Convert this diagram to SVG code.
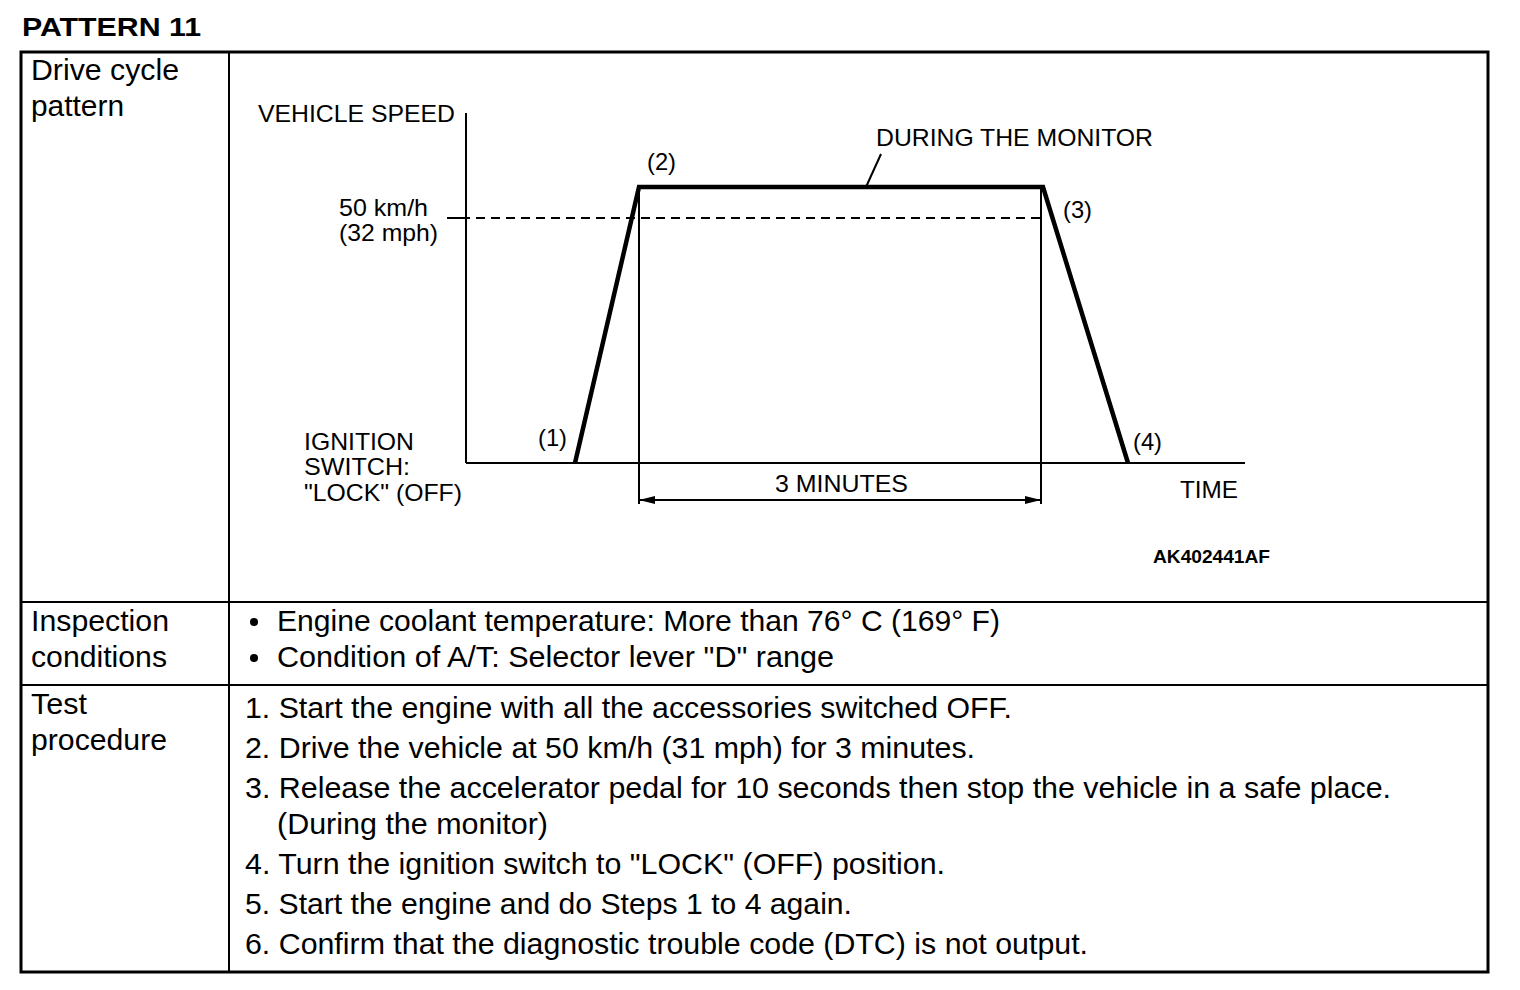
<svg xmlns="http://www.w3.org/2000/svg" width="1520" height="990" viewBox="0 0 1520 990">
<defs>
<style>
text{font-family:"Liberation Sans",Arial,sans-serif;fill:#000}
.body{font-size:29px}
.small{font-size:24px}
.b{font-weight:bold}
.grid{stroke:#000;stroke-width:2;fill:none}
.thick{stroke:#000;stroke-width:4.5;fill:none;stroke-linejoin:miter}
.thin{stroke:#000;stroke-width:2;fill:none}
.dash{stroke:#000;stroke-width:2;fill:none;stroke-dasharray:9 6}
</style>
<marker id="ah" viewBox="0 0 16 10" refX="16" refY="5" markerWidth="16" markerHeight="10" markerUnits="userSpaceOnUse" orient="auto-start-reverse">
<path d="M0,1 L16,5 L0,9 Z" fill="#000"/>
</marker>
</defs>
<rect width="1520" height="990" fill="#fff"/>
<text id="title" class="b" x="22" y="36" font-size="26" textLength="179" lengthAdjust="spacingAndGlyphs">PATTERN 11</text>

<g id="table">
<rect x="21" y="52" width="1467" height="920" fill="none" stroke="#000" stroke-width="3"/>
<line class="grid" x1="229" y1="52" x2="229" y2="972"/>
<line class="grid" x1="21" y1="602" x2="1488" y2="602"/>
<line class="grid" x1="21" y1="685" x2="1488" y2="685"/>
</g>

<g id="row-labels" class="body">
<text x="31" y="80" textLength="148" lengthAdjust="spacingAndGlyphs">Drive cycle</text>
<text x="31" y="116" textLength="93" lengthAdjust="spacingAndGlyphs">pattern</text>
<text x="31" y="631" textLength="138" lengthAdjust="spacingAndGlyphs">Inspection</text>
<text x="31" y="667" textLength="136" lengthAdjust="spacingAndGlyphs">conditions</text>
<text x="31" y="714" textLength="56" lengthAdjust="spacingAndGlyphs">Test</text>
<text x="31" y="750" textLength="136" lengthAdjust="spacingAndGlyphs">procedure</text>
</g>

<g id="inspection" class="body">
<circle cx="254" cy="622" r="4" fill="#000"/>
<circle cx="254" cy="658" r="4" fill="#000"/>
<text x="277" y="631" textLength="723" lengthAdjust="spacingAndGlyphs">Engine coolant temperature: More than 76° C (169° F)</text>
<text x="277" y="667" textLength="557" lengthAdjust="spacingAndGlyphs">Condition of A/T: Selector lever "D" range</text>
</g>

<g id="procedure" class="body">
<text x="245" y="718" textLength="767" lengthAdjust="spacingAndGlyphs">1. Start the engine with all the accessories switched OFF.</text>
<text x="245" y="758" textLength="730" lengthAdjust="spacingAndGlyphs">2. Drive the vehicle at 50 km/h (31 mph) for 3 minutes.</text>
<text x="245" y="798" textLength="1146" lengthAdjust="spacingAndGlyphs">3. Release the accelerator pedal for 10 seconds then stop the vehicle in a safe place.</text>
<text x="277" y="834" textLength="271" lengthAdjust="spacingAndGlyphs">(During the monitor)</text>
<text x="245" y="874" textLength="700" lengthAdjust="spacingAndGlyphs">4. Turn the ignition switch to "LOCK" (OFF) position.</text>
<text x="245" y="914" textLength="607" lengthAdjust="spacingAndGlyphs">5. Start the engine and do Steps 1 to 4 again.</text>
<text x="245" y="954" textLength="843" lengthAdjust="spacingAndGlyphs">6. Confirm that the diagnostic trouble code (DTC) is not output.</text>
</g>

<g id="chart-axes">
<line class="thin" x1="466" y1="113" x2="466" y2="463"/>
<line class="thin" x1="466" y1="463" x2="1245" y2="463"/>
<line class="thin" x1="447" y1="218" x2="470" y2="218"/>
<line class="dash" x1="476" y1="218" x2="1041" y2="218"/>
<line class="thin" x1="639" y1="187" x2="639" y2="504"/>
<line class="thin" x1="1041" y1="187" x2="1041" y2="504"/>
</g>

<g id="speed-profile">
<polyline class="thick" points="575,463 639,187 1043,187 1128,463"/>
</g>

<g id="connectors">
<line class="thin" x1="866" y1="187" x2="881" y2="154"/>
<line class="thin" x1="639" y1="500" x2="1041" y2="500" marker-start="url(#ah)" marker-end="url(#ah)"/>
</g>

<g id="chart-labels" class="small">
<text x="258" y="122" textLength="197" lengthAdjust="spacingAndGlyphs">VEHICLE SPEED</text>
<text x="876" y="146" textLength="277" lengthAdjust="spacingAndGlyphs">DURING THE MONITOR</text>
<text x="339" y="216" textLength="89" lengthAdjust="spacingAndGlyphs">50 km/h</text>
<text x="339" y="241" textLength="99" lengthAdjust="spacingAndGlyphs">(32 mph)</text>
<text x="647" y="170" textLength="29" lengthAdjust="spacingAndGlyphs">(2)</text>
<text x="1063" y="218" textLength="29" lengthAdjust="spacingAndGlyphs">(3)</text>
<text x="538" y="446" textLength="29" lengthAdjust="spacingAndGlyphs">(1)</text>
<text x="1133" y="450" textLength="29" lengthAdjust="spacingAndGlyphs">(4)</text>
<text x="304" y="450" textLength="110" lengthAdjust="spacingAndGlyphs">IGNITION</text>
<text x="304" y="475" textLength="106" lengthAdjust="spacingAndGlyphs">SWITCH:</text>
<text x="304" y="501" textLength="158" lengthAdjust="spacingAndGlyphs">"LOCK" (OFF)</text>
<text x="775" y="492" textLength="133" lengthAdjust="spacingAndGlyphs">3 MINUTES</text>
<text x="1180" y="498" textLength="58" lengthAdjust="spacingAndGlyphs">TIME</text>
<text class="b" x="1153" y="563" font-size="18" textLength="117" lengthAdjust="spacingAndGlyphs">AK402441AF</text>
</g>
</svg>
